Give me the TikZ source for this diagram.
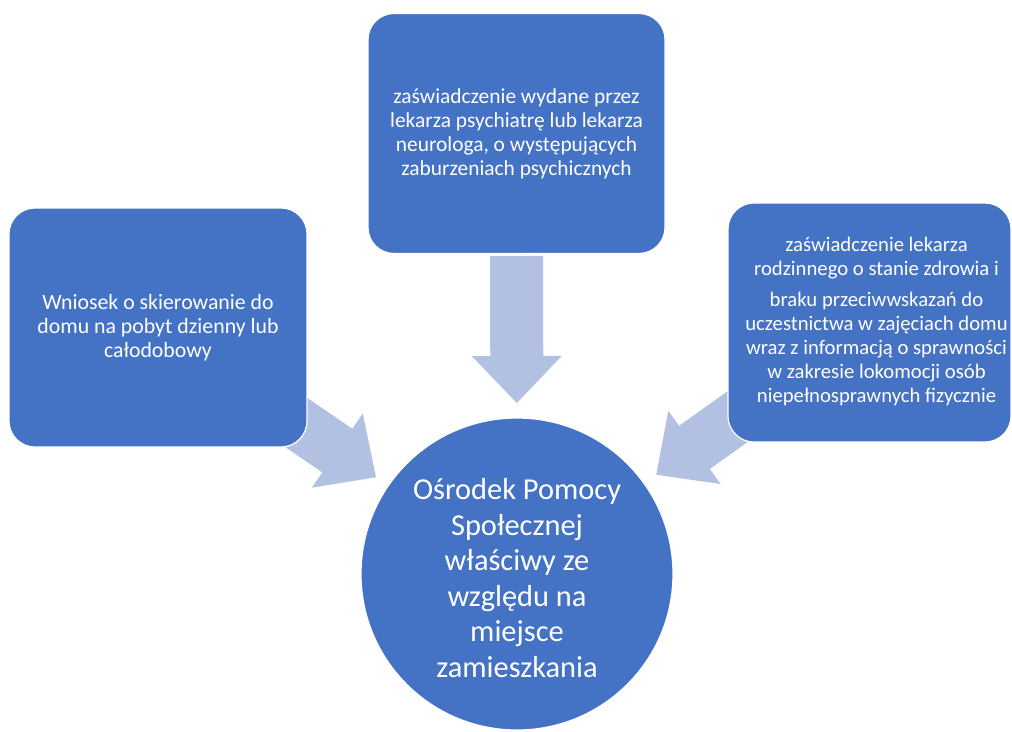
\documentclass[tikz,border=0pt]{standalone}
\usepackage{fontspec}
\setmainfont{Carlito}
\usetikzlibrary{calc,backgrounds}
\definecolor{boxblue}{HTML}{4472C4}
\definecolor{arrowblue}{RGB}{178,192,225}
\newcommand\divarrow[2]{%
  \coordinate (#2T) at ($(hub.center)!171pt!(#1.center)$);
  \coordinate (#2S) at ($(hub.center)!318pt!(#1.center)$);
  \coordinate (#2H) at ($(#2T)!47pt!(#2S)$);
  \fill[arrowshape] ($(#2S)!26.5pt!90:(#2T)$) -- ($(#2H)!26.5pt!90:(#2T)$) -- ($(#2H)!45pt!90:(#2T)$) -- (#2T)
     -- ($(#2H)!45pt!-90:(#2T)$) -- ($(#2H)!26.5pt!-90:(#2T)$) -- ($(#2S)!26.5pt!-90:(#2T)$) -- cycle;
}
\begin{document}
\begin{tikzpicture}[x=1pt,y=-1pt,
  card/.style={draw=white, line width=1.2pt, fill=boxblue, rounded corners=26pt, text=white, align=center, inner sep=0pt, font=\fontsize{21.4}{24}\selectfont},
  cardtext/.style={text=white, align=center, inner sep=0pt},
  hub/.style={circle, draw=white, line width=1.2pt, fill=boxblue, text=white, align=center, inner sep=0pt, minimum size=312pt, font=\fontsize{30.4}{35.5}\selectfont},
  arrowshape/.style={fill=arrowblue}]
\path[use as bounding box, clip] (0,0) rectangle (1012,731);
\node[card, minimum width=297pt, minimum height=240pt] (top) at (516.5,133.5)
  {zaświadczenie wydane przez\\lekarza psychiatrę lub lekarza\\neurologa, o występujących\\zaburzeniach psychicznych};
\node[card, minimum width=298pt, minimum height=239pt, font=\fontsize{21.8}{24}\selectfont] (left) at (158,327.5)
  {Wniosek o skierowanie do\\domu na pobyt dzienny lub\\całodobowy};
\node[card, minimum width=283pt, minimum height=239pt] (right) at (869.5,322.5) {};
\node[cardtext, font=\fontsize{20.7}{24}\selectfont] (righttext) at ($(right.center)+(7,-1)$)
  {zaświadczenie lekarza\\rodzinnego o stanie zdrowia i\\[7pt]braku przeciwwskazań do\\uczestnictwa w zajęciach domu\\wraz z informacją o sprawności\\w zakresie lokomocji osób\\niepełnosprawnych fizycznie};
\node[hub] (hub) at (517,574) {};
\node[cardtext, font=\fontsize{30.4}{35.5}\selectfont] (hubtext) at ($(hub.center)+(0,4)$)
  {Ośrodek Pomocy\\Społecznej\\właściwy ze\\względu na\\miejsce\\zamieszkania};
\begin{scope}[on background layer]
  \divarrow{top}{a}
  \divarrow{left}{b}
  \divarrow{right}{c}
\end{scope}
\end{tikzpicture}
\end{document}
